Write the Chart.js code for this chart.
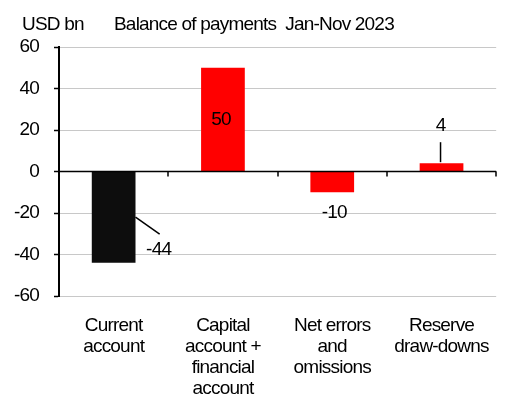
<!DOCTYPE html>
<html>
<head>
<meta charset="utf-8">
<script src="https://cdn.jsdelivr.net/npm/chart.js@4"></script>
<style>
  html, body { margin: 0; padding: 0; background: #fff; }
  #wrap { width: 509px; height: 405px; }
</style>
</head>
<body>
<div id="wrap"><canvas id="bopChart" width="509" height="405"></canvas></div>
<script>
// Balance of payments, Jan-Nov 2023 (USD bn)
const CATEGORIES = [
    ['Current', 'account'],
    ['Capital', 'account +', 'financial', 'account'],
    ['Net errors', 'and', 'omissions'],
    ['Reserve', 'draw-downs']
];
const VALUES = [-44, 50, -10, 4];
const BAR_COLOURS = ['#0d0d0d', '#ff0000', '#ff0000', '#ff0000'];
const Y_TICKS = [-60, -40, -20, 0, 20, 40, 60];
const UNIT_LABEL = 'USD bn';
const TITLE = 'Balance of payments  Jan-Nov 2023';

const FONT_FAMILY = '"Liberation Sans", Arial, sans-serif';
const FONT_SIZE = 19;
const FONT = FONT_SIZE + 'px ' + FONT_FAMILY;
const LETTER_SPACING = '-0.8px'; // tighter, narrow-looking text

/**********************************************************************************
 * PLUGINS
 *********************************************************************************/

// Tighten all canvas text before anything gets measured or drawn
const tightText = {
    id: 'tightText',
    beforeUpdate(chart) { chart.ctx.letterSpacing = LETTER_SPACING; },
    beforeDraw(chart) { chart.ctx.letterSpacing = LETTER_SPACING; }
};

// Unit and title line above the plot
const headerText = {
    id: 'headerText',
    afterDraw(chart) {
        const ctx = chart.ctx;
        ctx.save();
        ctx.font = FONT;
        ctx.fillStyle = '#000';
        ctx.textBaseline = 'alphabetic';
        ctx.textAlign = 'left';
        ctx.fillText(UNIT_LABEL, 22, 30);
        ctx.fillText(TITLE, 114, 30);
        ctx.restore();
    }
};

// Zero line with small category ticks hanging off it
const zeroAxis = {
    id: 'zeroAxis',
    afterDatasetsDraw(chart) {
        const ctx = chart.ctx;
        const x = chart.scales.x;
        const y0 = chart.scales.y.getPixelForValue(0);
        ctx.save();
        ctx.strokeStyle = '#000';
        ctx.lineWidth = 1.5;
        ctx.beginPath();
        ctx.moveTo(chart.chartArea.left, y0);
        ctx.lineTo(chart.chartArea.right, y0);
        for (let i = 1; i <= CATEGORIES.length; i++) {
            const px = Math.round(x.getPixelForValue(i - 0.5));
            ctx.moveTo(px, y0);
            ctx.lineTo(px, y0 + 5);
        }
        ctx.stroke();
        ctx.restore();
    }
};

// Value labels, some with a short leader line
const valueLabels = {
    id: 'valueLabels',
    afterDatasetsDraw(chart) {
        const ctx = chart.ctx;
        const meta = chart.getDatasetMeta(0);
        const y0 = chart.scales.y.getPixelForValue(0);
        ctx.save();
        ctx.font = FONT;
        ctx.fillStyle = '#000';
        ctx.strokeStyle = '#000';
        ctx.lineWidth = 1.5;
        ctx.textAlign = 'center';
        ctx.textBaseline = 'middle';
        meta.data.forEach((bar, i) => {
            const text = String(VALUES[i]);
            const half = bar.width / 2;
            if (i === 0) {
                const midY = (bar.y + y0) / 2;
                ctx.beginPath();
                ctx.moveTo(bar.x + half, midY);
                ctx.lineTo(bar.x + 46, midY + 17);
                ctx.stroke();
                ctx.fillText(text, bar.x + 45, midY + 33);
            } else if (i === 1) {
                ctx.fillText(text, bar.x - 2, (bar.y + y0) / 2);
            } else if (i === 2) {
                ctx.fillText(text, bar.x + 2, bar.y + 21);
            } else {
                ctx.beginPath();
                ctx.moveTo(bar.x - 1, bar.y - 1);
                ctx.lineTo(bar.x - 1, bar.y - 21);
                ctx.stroke();
                ctx.fillText(text, bar.x - 1, bar.y - 37);
            }
        });
        ctx.restore();
    }
};

/**********************************************************************************
 * CHART
 *********************************************************************************/

const ctx = document.getElementById('bopChart');

var chart = new Chart(ctx, {
    type: 'bar',
    data: {
        labels: CATEGORIES,
        datasets: [{
            data: VALUES,
            backgroundColor: BAR_COLOURS,
            borderWidth: 0,
            barPercentage: 0.4,
            categoryPercentage: 1
        }]
    },
    options: {
        responsive: false,
        animation: false,
        devicePixelRatio: 1,
        layout: { padding: { top: 47, right: 10, bottom: 0, left: 0 } },
        plugins: {
            legend: { display: false },
            tooltip: { enabled: false },
            title: { display: false }
        },
        scales: {
            x: {
                grid: { display: false, drawTicks: false },
                border: { display: false },
                ticks: {
                    color: '#000',
                    padding: 19,
                    maxRotation: 0,
                    autoSkip: false,
                    font: { family: FONT_FAMILY, size: FONT_SIZE, lineHeight: 21 / FONT_SIZE }
                },
                afterFit: (scale) => { scale.height = 109; }
            },
            y: {
                min: -60,
                max: 60,
                afterBuildTicks: (scale) => {
                    scale.ticks = Y_TICKS.map(v => ({ value: v }));
                },
                grid: {
                    color: (c) => c.tick && c.tick.value === 0 ? '#000' : '#c8c8c8',
                    lineWidth: 1,
                    tickColor: '#000',
                    tickLength: 5,
                    tickWidth: 1.5
                },
                border: { display: true, color: '#000', width: 2 },
                ticks: {
                    color: '#000',
                    padding: 15,
                    font: { family: FONT_FAMILY, size: FONT_SIZE }
                },
                afterFit: (scale) => { scale.width = 59; }
            }
        }
    },
    plugins: [tightText, zeroAxis, valueLabels, headerText]
});
</script>
</body>
</html>
